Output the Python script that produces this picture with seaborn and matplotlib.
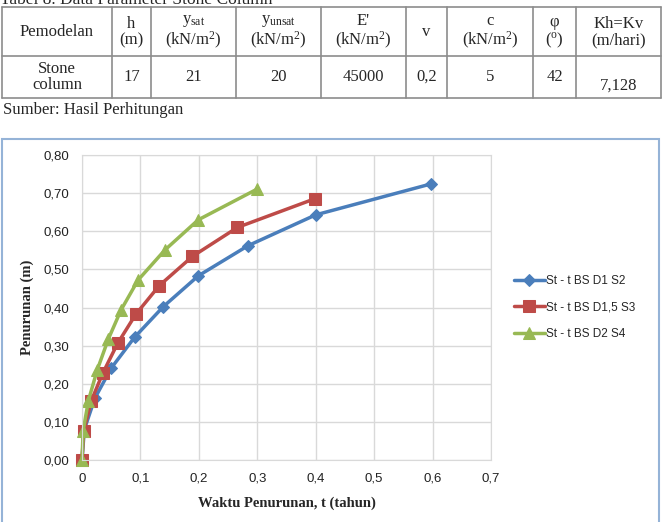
import numpy as np
import pandas as pd
import matplotlib
matplotlib.use('Agg')
import matplotlib.pyplot as plt
import matplotlib.ticker as mticker
from matplotlib.patches import Rectangle
from matplotlib.lines import Line2D
import seaborn as sns

# Data
t_d1s2 = [0, 0.004, 0.022, 0.050, 0.090, 0.139, 0.199, 0.284, 0.400, 0.597]
s_d1s2 = [0, 0.080, 0.162, 0.241, 0.322, 0.402, 0.483, 0.562, 0.643, 0.724]

t_d15s3 = [0, 0.003, 0.016, 0.036, 0.061, 0.092, 0.132, 0.189, 0.266, 0.398]
s_d15s3 = [0, 0.077, 0.156, 0.229, 0.306, 0.382, 0.457, 0.534, 0.610, 0.685]

t_d2s4 = [0, 0.002, 0.011, 0.026, 0.045, 0.067, 0.096, 0.142, 0.199, 0.299]
s_d2s4 = [0, 0.077, 0.156, 0.236, 0.317, 0.394, 0.472, 0.551, 0.630, 0.710]

series_names = ['St - t BS D1 S2', 'St - t BS D1,5 S3', 'St - t BS D2 S4']

# Table values
tbl_header = ['Pemodelan', 'h\n(m)', 'y$_{sat}$\n(kN/m$^{2}$)', 'y$_{unsat}$\n(kN/m$^{2}$)',
              "E'\n(kN/m$^{2}$)", 'v', 'c\n(kN/m$^{2}$)', 'φ\n($^{o}$)', 'Kh=Kv\n(m/hari)']
tbl_row = ['Stone\ncolumn', '17', '21', '20', '45000', '0,2', '5', '42', '7,128']

sns.set_style('white')
plt.rcParams['font.family'] = ['Liberation Sans', 'DejaVu Sans']
plt.rcParams['mathtext.default'] = 'regular'

W, H = 663, 522
fig = plt.figure(figsize=(W / 100, H / 100), dpi=100)


def fx(px):
    return px / W


def fy(py):
    return 1 - py / H


serif = ['Liberation Serif', 'DejaVu Serif']

# ---- table on top ----
fig.text(fx(0), fy(4), 'Tabel 8. Data Parameter Stone Column', family=serif,
         fontsize=12.5, va='baseline', ha='left')
col_x = [2, 112, 151, 236, 321, 406, 447, 533, 576, 661]
row_y = [7, 56, 98]
lc = '#8c8c8c'
for yy in row_y:
    fig.add_artist(Line2D([fx(col_x[0]), fx(col_x[-1])], [fy(yy), fy(yy)], color=lc, lw=1.2))
for xx in col_x:
    fig.add_artist(Line2D([fx(xx), fx(xx)], [fy(row_y[0]), fy(row_y[-1])], color=lc, lw=1.2))
for i in range(len(tbl_header)):
    cx = (col_x[i] + col_x[i + 1]) / 2
    fig.text(fx(cx), fy(32), tbl_header[i], family=serif, fontsize=12,
             ha='center', va='center', linespacing=1.05)
    yv = 86 if i == len(tbl_header) - 1 else 77
    fig.text(fx(cx), fy(yv), tbl_row[i], family=serif, fontsize=12,
             ha='center', va='center', linespacing=1.05)
fig.text(fx(3), fy(110), 'Sumber: Hasil Perhitungan', family=serif, fontsize=12,
         ha='left', va='center')

# ---- chart frame ----
fig.add_artist(Rectangle((fx(2), -0.02), fx(657), fy(139) + 0.02, transform=fig.transFigure,
                         fill=False, edgecolor='#95b3d7', lw=1.5))

ax = fig.add_axes([fx(82), fy(460), fx(491) - fx(82), fy(155) - fy(460)])

colors = ['#4a7ebb', '#be4b48', '#98b954']
markers = ['D', 's', '^']
msizes = [6, 8, 8.5]
data = [(t_d1s2, s_d1s2), (t_d15s3, s_d15s3), (t_d2s4, s_d2s4)]
for (tt, ss), name, c, m, ms in zip(data, series_names, colors, markers, msizes):
    df = pd.DataFrame({'t': tt, 's': ss})
    sns.lineplot(data=df, x='t', y='s', ax=ax, color=c, lw=2.5, marker=m,
                 markersize=ms, markeredgecolor=c, sort=False, label=name, clip_on=False)

ax.set_xlim(0, 0.7)
ax.set_ylim(0, 0.8)
ax.set_xticks(np.arange(0, 0.71, 0.1))
ax.set_yticks(np.arange(0, 0.81, 0.1))
ax.xaxis.set_major_formatter(mticker.FuncFormatter(
    lambda v, p: '0' if abs(v) < 1e-9 else ('%.1f' % v).replace('.', ',')))
ax.yaxis.set_major_formatter(mticker.FuncFormatter(lambda v, p: ('%.2f' % v).replace('.', ',')))
ax.grid(True, color='#d9d9d9', lw=1)
for sp in ax.spines.values():
    sp.set_color('#d9d9d9')
ax.tick_params(length=0, labelsize=9.5, colors='#222222', pad=9)
ax.set_xlabel('Waktu Penurunan, t (tahun)', family=serif, fontsize=10.5,
              fontweight='bold', labelpad=9)
ax.set_ylabel('Penurunan (m)', family=serif, fontsize=10.5, fontweight='bold', labelpad=7)

ax.legend(loc='center left', bbox_to_anchor=(1.03, 0.50), frameon=False, fontsize=8.5,
          handlelength=2.6, handletextpad=0.1, labelspacing=1.2)

fig.savefig('out.png', dpi=100)
